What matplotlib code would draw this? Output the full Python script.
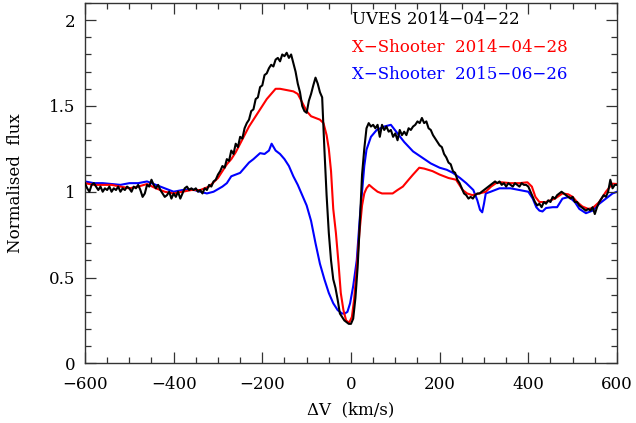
import matplotlib
matplotlib.use("Agg")
import matplotlib.pyplot as plt
from matplotlib.ticker import MultipleLocator

# ---- data ----
uves_v = list(range(-600, 605, 5))
uves_f = [1.05, 1.02, 1.00, 1.04, 1.05, 1.03, 1.01, 1.03, 1.00, 1.02,
          1.01, 1.03, 1.00, 1.02, 1.01, 1.03, 1.00, 1.02, 1.01, 1.03,
          1.02, 1.00, 1.03, 1.02, 1.04, 1.01, 0.97, 0.99, 1.04, 1.03,
          1.07, 1.04, 1.02, 1.04, 1.01, 0.99, 0.97, 0.98, 1.00, 0.96,
          0.99, 0.97, 1.00, 0.96, 0.99, 1.02, 1.03, 1.01, 1.02, 1.01,
          1.02, 1.00, 1.01, 0.99, 1.02, 1.01, 1.04, 1.03, 1.06, 1.07,
          1.10, 1.12, 1.15, 1.14, 1.19, 1.18, 1.24, 1.22, 1.28, 1.26,
          1.32, 1.31, 1.37, 1.40, 1.42, 1.47, 1.48, 1.54, 1.55, 1.61,
          1.62, 1.68, 1.69, 1.72, 1.74, 1.73, 1.77, 1.78, 1.76, 1.80,
          1.79, 1.81, 1.78, 1.80, 1.75, 1.70, 1.63, 1.58, 1.50, 1.47,
          1.46, 1.53, 1.57, 1.62, 1.665, 1.63, 1.58, 1.55, 1.25, 0.98,
          0.76, 0.60, 0.49, 0.44, 0.37, 0.29, 0.27, 0.25, 0.24, 0.23,
          0.23, 0.26, 0.38, 0.56, 0.82, 1.10, 1.25, 1.37, 1.40, 1.38,
          1.39, 1.37, 1.39, 1.32, 1.39, 1.36, 1.38, 1.35, 1.36, 1.32,
          1.34, 1.30, 1.36, 1.33, 1.35, 1.33, 1.37, 1.36, 1.38, 1.39,
          1.41, 1.40, 1.43, 1.40, 1.41, 1.37, 1.36, 1.33, 1.31, 1.29,
          1.27, 1.26, 1.22, 1.20, 1.17, 1.16, 1.12, 1.11, 1.07, 1.05,
          1.02, 0.99, 0.98, 0.96, 0.97, 0.96, 0.98, 0.99, 0.99, 1.00,
          1.01, 1.02, 1.03, 1.04, 1.05, 1.06, 1.05, 1.06, 1.04, 1.05,
          1.03, 1.05, 1.04, 1.03, 1.05, 1.04, 1.03, 1.05, 1.04, 1.04,
          1.03, 1.00, 0.97, 0.94, 0.92, 0.93, 0.91, 0.94, 0.93, 0.95,
          0.94, 0.97, 0.96, 0.98, 0.99, 1.00, 0.99, 0.98, 0.97, 0.96,
          0.97, 0.94, 0.94, 0.92, 0.91, 0.90, 0.89, 0.90, 0.89, 0.91,
          0.87, 0.91, 0.94, 0.96, 0.98, 0.97, 1.00, 1.07, 1.02, 1.04,
          1.04]

xs14_v = [-600, -580, -560, -540, -520, -500, -480, -460, -440, -420,
          -400, -380, -360, -340, -320, -300, -290, -280, -270, -260,
          -250, -240, -230, -220, -210, -200, -190, -180, -170, -160,
          -150, -140, -130, -120, -110, -100, -90, -80, -70, -62,
          -55, -50, -45, -40, -34, -28, -23, -17, -11, -4,
          2, 7, 13, 19, 25, 30, 35, 41, 50, 60,
          70, 80, 94, 105, 117, 130, 140, 154, 165, 184,
          200, 220, 237, 252, 262, 274, 290, 304, 316, 327,
          340, 360, 380, 398, 408, 416, 425, 440, 460, 477,
          490, 500, 510, 522, 535, 545, 560, 575, 590, 600]
xs14_f = [1.05, 1.04, 1.04, 1.04, 1.03, 1.02, 1.03, 1.045, 1.02, 1.00,
          0.99, 1.00, 1.01, 1.01, 1.03, 1.08, 1.12, 1.16, 1.19, 1.23,
          1.28, 1.33, 1.38, 1.42, 1.46, 1.50, 1.54, 1.57, 1.60, 1.60,
          1.595, 1.59, 1.585, 1.57, 1.52, 1.47, 1.44, 1.43, 1.42, 1.40,
          1.33, 1.25, 1.12, 0.90, 0.76, 0.58, 0.41, 0.31, 0.25, 0.237,
          0.27, 0.37, 0.55, 0.76, 0.92, 0.99, 1.02, 1.04, 1.02, 1.00,
          0.99, 0.99, 0.99, 1.01, 1.03, 1.07, 1.10, 1.14, 1.135, 1.12,
          1.10, 1.08, 1.07, 1.01, 0.99, 0.98, 0.99, 1.00, 1.03, 1.05,
          1.055, 1.05, 1.05, 1.055, 1.03, 0.97, 0.94, 0.94, 0.96, 0.99,
          0.985, 0.97, 0.94, 0.914, 0.90, 0.905, 0.94, 1.00, 1.047, 1.045]

xs15_v = [-600, -580, -560, -540, -520, -500, -480, -460, -440, -420,
          -400, -380, -360, -340, -325, -310, -290, -280, -270, -260,
          -250, -240, -230, -220, -205, -195, -185, -179, -170, -160,
          -150, -140, -130, -120, -110, -100, -90, -80, -70, -60,
          -50, -40, -30, -20, -14, -8, -2, 5, 13, 20,
          25, 30, 35, 45, 58, 75, 90, 105, 120, 140,
          160, 180, 200, 216, 230, 246, 260, 276, 285, 291,
          296, 300, 304, 315, 335, 360, 380, 400, 410, 418,
          425, 432, 440, 455, 465, 477, 492, 505, 515, 530,
          545, 560, 575, 590, 600]
xs15_f = [1.06, 1.05, 1.05, 1.045, 1.04, 1.05, 1.05, 1.06, 1.04, 1.02,
          1.00, 1.01, 1.015, 1.00, 0.99, 1.00, 1.03, 1.05, 1.09, 1.10,
          1.11, 1.14, 1.17, 1.19, 1.225, 1.22, 1.24, 1.28, 1.24, 1.22,
          1.19, 1.15, 1.09, 1.04, 0.98, 0.92, 0.83, 0.70, 0.58, 0.49,
          0.41, 0.35, 0.31, 0.29, 0.29, 0.30, 0.35, 0.45, 0.60, 0.85,
          1.00, 1.15, 1.245, 1.32, 1.36, 1.38, 1.39, 1.34, 1.29, 1.235,
          1.20, 1.165, 1.14, 1.128, 1.11, 1.08, 1.05, 1.01, 0.95, 0.895,
          0.88, 0.93, 0.99, 1.00, 1.02, 1.02, 1.01, 1.00, 0.96, 0.91,
          0.89, 0.885, 0.905, 0.91, 0.91, 0.96, 0.97, 0.94, 0.90, 0.875,
          0.89, 0.93, 0.96, 0.99, 1.00]

labels = ["UVES 2014\u221204\u221222", "X\u2212Shooter  2014\u221204\u221228",
          "X\u2212Shooter  2015\u221206\u221226"]
colors = ["black", "#ff0000", "#0000ff"]

# ---- figure ----
plt.rcParams['font.family'] = ['DejaVu Serif']
fig = plt.figure(figsize=(6.36, 4.23), dpi=100)
ax = fig.add_axes([0.1336, 0.1411, 0.8365, 0.8518])

ax.plot(uves_v, uves_f, color=colors[0], lw=1.5, zorder=3)
ax.plot(xs14_v, xs14_f, color=colors[1], lw=1.5, zorder=2)
ax.plot(xs15_v, xs15_f, color=colors[2], lw=1.5, zorder=1)

ax.set_xlim(-600, 600)
ax.set_ylim(0, 2.1)
ax.xaxis.set_major_locator(MultipleLocator(200))
ax.xaxis.set_minor_locator(MultipleLocator(50))
ax.yaxis.set_major_locator(MultipleLocator(0.5))
ax.yaxis.set_minor_locator(MultipleLocator(0.1))
ax.set_yticks([0, 0.5, 1, 1.5, 2])
ax.set_yticklabels(["0", "0.5", "1", "1.5", "2"])
ax.tick_params(which='both', direction='in', top=True, right=True,
               labelsize=12, color='#333333')
ax.tick_params(which='major', length=8, width=0.9)
ax.tick_params(axis='x', which='major', pad=9)
ax.tick_params(axis='y', which='major', pad=7)
ax.tick_params(which='minor', length=4.5, width=0.9)
for s in ax.spines.values():
    s.set_linewidth(1.0)
    s.set_color('#333333')

ax.set_xlabel("\u0394V  (km/s)", fontsize=12, labelpad=6)
ax.set_ylabel("Normalised  flux", fontsize=12, labelpad=18)

for i, (lab, c) in enumerate(zip(labels, colors)):
    ax.text(0.502, 0.953 - i * 0.076, lab, color=c, fontsize=12,
            transform=ax.transAxes, ha='left', va='center')

fig.savefig("out.png", dpi=100)
